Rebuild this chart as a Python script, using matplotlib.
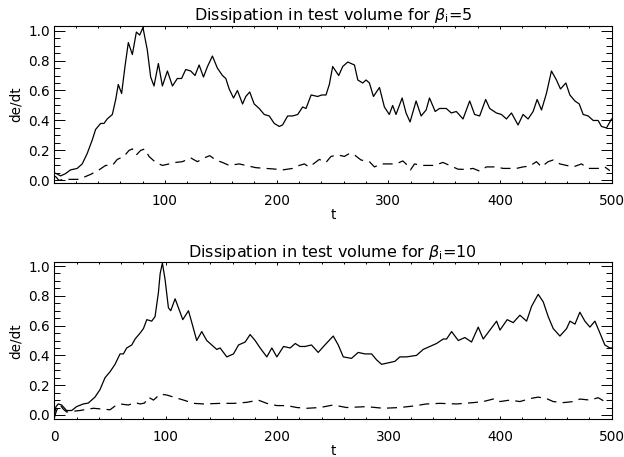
#!/usr/bin/env python3
"""
Energy dissipation rate de/dt in the test volume, for beta_i = 5 and beta_i = 10.
Solid: total dissipation, dashed: second component.
"""

import matplotlib
matplotlib.use("Agg")
import matplotlib.pyplot as plt
from matplotlib.ticker import MultipleLocator

# ---- beta_i = 5 -------------------------------------------------------------
t5_solid = [1, 3, 6.6, 11, 15.5, 21.5, 26, 30.5, 35, 38, 42.5, 45.5, 48.4, 53, 56,
            58.3, 61.3, 64.3, 67.3, 70.9, 74.5, 77.5, 80.4, 84.3, 87.3, 90.3, 94.2,
            97.8, 102.3, 106.8, 111.2, 115, 118.7, 123.2, 127, 130.7, 134.6, 138.2,
            142.6, 147, 151.6, 154.6, 157.6, 161.5, 165, 169.6, 172.5, 176, 180,
            184.5, 189, 193.5, 198, 202.5, 205.4, 210, 214.4, 219, 223.4, 226.4,
            231, 236.8, 240.5, 244.3, 247.3, 250.3, 255.7, 259.3, 263.8, 266.8,
            269.8, 272.8, 277.2, 280.2, 283.2, 286.8, 292.2, 296.6, 301, 304, 307,
            312.5, 316, 319.6, 325, 329.5, 334, 337, 342.1, 346, 352, 356.5, 361,
            367, 373, 377.4, 381.9, 387.3, 390.9, 396.9, 401.4, 405.9, 410.4, 416.3,
            420.8, 425.3, 429.8, 433.4, 437.3, 441.7, 446.2, 450.7, 454.3, 459.1,
            462.7, 467.2, 471.1, 474.6, 479.1, 483.6, 488, 491, 495.5, 500]
de5_solid = [0.05, 0.045, 0.03, 0.045, 0.07, 0.08, 0.11, 0.18, 0.27, 0.34, 0.38, 0.38,
             0.41, 0.44, 0.54, 0.64, 0.58, 0.76, 0.92, 0.84, 0.99, 0.97, 1.02, 0.87,
             0.69, 0.63, 0.78, 0.63, 0.73, 0.63, 0.68, 0.68, 0.74, 0.73, 0.70, 0.77,
             0.69, 0.76, 0.83, 0.75, 0.70, 0.68, 0.61, 0.55, 0.60, 0.51, 0.56, 0.59,
             0.51, 0.48, 0.44, 0.43, 0.38, 0.36, 0.37, 0.43, 0.43, 0.44, 0.49, 0.48,
             0.57, 0.56, 0.57, 0.57, 0.64, 0.76, 0.70, 0.76, 0.79, 0.78, 0.77, 0.67,
             0.65, 0.67, 0.65, 0.56, 0.62, 0.49, 0.44, 0.50, 0.44, 0.55, 0.45, 0.39,
             0.53, 0.43, 0.47, 0.55, 0.46, 0.48, 0.48, 0.45, 0.46, 0.41, 0.53, 0.44,
             0.43, 0.54, 0.48, 0.45, 0.44, 0.41, 0.45, 0.37, 0.44, 0.41, 0.46, 0.54,
             0.47, 0.58, 0.73, 0.67, 0.61, 0.65, 0.57, 0.53, 0.51, 0.44, 0.43, 0.40,
             0.40, 0.36, 0.35, 0.41]

t5_dash = [1, 3, 5, 9.6, 23, 33.5, 41, 47, 53, 57.4, 63.4, 67.9, 70.9, 74.5, 78.3, 82,
           85.8, 91.8, 97.8, 103.8, 109.8, 115.7, 123.2, 129.2, 135.2, 140.2, 145.6,
           151.6, 157.6, 166.6, 172.5, 181.5, 190.5, 199.5, 205.4, 214.4, 220.4,
           225, 229, 233, 238.3, 244.3, 248.8, 254.8, 260.8, 265.3, 269.8, 275.7,
           283.2, 287.7, 293.7, 301.2, 307, 313.1, 316, 320, 323.6, 329.5, 335.5,
           341.5, 349, 355, 362.5, 370, 376, 381.9, 387.9, 396.9, 402.9, 408.8,
           414.8, 420.8, 426.8, 432.8, 437.3, 443.2, 447.7, 453.7, 459.7, 465.7,
           473.1, 479.1, 488, 494, 498.5]
de5_dash = [0.03, 0.02, 0.0, 0.007, 0.007, 0.04, 0.07, 0.10, 0.10, 0.14, 0.16, 0.20,
            0.21, 0.17, 0.20, 0.21, 0.16, 0.12, 0.10, 0.11, 0.12, 0.125, 0.15, 0.125,
            0.15, 0.165, 0.136, 0.12, 0.10, 0.11, 0.10, 0.085, 0.08, 0.075, 0.07,
            0.08, 0.10, 0.11, 0.09, 0.11, 0.14, 0.12, 0.16, 0.17, 0.16, 0.18, 0.17,
            0.136, 0.125, 0.09, 0.11, 0.11, 0.11, 0.13, 0.11, 0.07, 0.11, 0.10, 0.10,
            0.10, 0.12, 0.10, 0.075, 0.073, 0.08, 0.062, 0.09, 0.09, 0.08, 0.08,
            0.08, 0.09, 0.096, 0.125, 0.09, 0.125, 0.136, 0.11, 0.10, 0.09, 0.11,
            0.08, 0.08, 0.09, 0.065]

# ---- beta_i = 10 ------------------------------------------------------------
t10_solid = [0, 1.5, 3.6, 6.6, 11, 15.6, 20, 26, 30.5, 36.5, 41, 45.5, 50, 54.5, 59,
             62, 65, 69.5, 72.5, 77, 80, 83, 87.4, 90.4, 93.4, 95, 97, 99.4, 102.4,
             104.5, 108.4, 111.4, 115.3, 120.4, 123.4, 127.8, 132.3, 136.8, 141.3,
             145.8, 148.8, 154.8, 160.8, 165.3, 171.3, 175.7, 180.2, 184.7, 190.7,
             195.2, 199.7, 205.7, 211.7, 216.2, 220.4, 225, 230.8, 236.8, 242.8,
             250.3, 254.8, 259.3, 266.7, 272.7, 278.7, 284.7, 289.2, 293.7, 299.6,
             305.6, 310.1, 316, 325, 331, 337, 343, 349, 352, 356.5, 362.5, 368.4,
             374.4, 380.4, 384.9, 390.9, 396.9, 399.9, 406.4, 411.8, 417.8, 423.8,
             428.3, 434.2, 438.7, 443.2, 447.7, 453.7, 459.7, 462.7, 467.2, 471.6,
             476.1, 480.6, 485.1, 489.6, 494, 498.5, 500]
de10_solid = [0.0, 0.056, 0.074, 0.067, 0.03, 0.03, 0.056, 0.074, 0.08, 0.12, 0.17,
              0.25, 0.29, 0.34, 0.41, 0.41, 0.45, 0.47, 0.51, 0.55, 0.58, 0.64, 0.63,
              0.66, 0.82, 0.95, 1.02, 0.91, 0.72, 0.70, 0.78, 0.72, 0.64, 0.70, 0.62,
              0.50, 0.56, 0.50, 0.47, 0.44, 0.45, 0.39, 0.41, 0.47, 0.49, 0.54, 0.50,
              0.45, 0.39, 0.45, 0.39, 0.46, 0.45, 0.48, 0.46, 0.46, 0.47, 0.42, 0.47,
              0.53, 0.47, 0.39, 0.38, 0.42, 0.41, 0.41, 0.37, 0.34, 0.35, 0.36, 0.39,
              0.39, 0.40, 0.44, 0.46, 0.48, 0.51, 0.51, 0.56, 0.50, 0.52, 0.49, 0.59,
              0.51, 0.57, 0.63, 0.57, 0.64, 0.62, 0.67, 0.63, 0.73, 0.81, 0.76, 0.66,
              0.58, 0.53, 0.58, 0.63, 0.61, 0.69, 0.63, 0.59, 0.63, 0.55, 0.47, 0.45,
              0.45]

t10_dash = [0, 2, 5, 8, 11, 23, 35, 50, 54.5, 59, 66.5, 72.5, 77, 81, 84.4, 89, 95,
            101, 107, 116, 125, 134, 149, 161, 172.8, 183, 190.7, 199.7, 208.7,
            217.7, 226.6, 238.3, 250.3, 262.2, 280.2, 295.2, 310.1, 322, 334, 346,
            361, 376, 384.9, 395.4, 399.9, 408.8, 417.8, 426.8, 434.2, 441.7, 447.7,
            456.7, 465.7, 471.6, 480.6, 488, 494]
de10_dash = [-0.02, 0.03, 0.07, 0.04, 0.02, 0.03, 0.045, 0.035, 0.06, 0.074, 0.067,
             0.083, 0.074, 0.08, 0.12, 0.10, 0.14, 0.134, 0.12, 0.10, 0.078, 0.074,
             0.078, 0.078, 0.085, 0.10, 0.078, 0.063, 0.063, 0.05, 0.045, 0.05,
             0.067, 0.05, 0.056, 0.045, 0.05, 0.06, 0.074, 0.078, 0.074, 0.083, 0.09,
             0.11, 0.09, 0.10, 0.09, 0.11, 0.12, 0.11, 0.09, 0.083, 0.09, 0.107,
             0.10, 0.116, 0.09]

panels = [
    (r"Dissipation in test volume for $\beta_{\rm i}$=5", t5_solid, de5_solid,
     t5_dash, de5_dash, (1, 500), (-0.016, 1.03), [100, 200, 300, 400, 500]),
    (r"Dissipation in test volume for $\beta_{\rm i}$=10", t10_solid, de10_solid,
     t10_dash, de10_dash, (0, 500), (-0.029, 1.025), [0, 100, 200, 300, 400, 500]),
]

plt.rcParams["font.family"] = "DejaVu Sans"
plt.rcParams["mathtext.fontset"] = "dejavusans"

fig = plt.figure(figsize=(6.24, 4.57), dpi=100)
boxes = [[0.087, 0.600, 0.893, 0.343], [0.087, 0.0825, 0.893, 0.3435]]

for box, (title, ts, ys, td, yd, xlim, ylim, xticks) in zip(boxes, panels):
    ax = fig.add_axes(box)
    ax.plot(ts, ys, color="black", lw=0.9)
    ax.plot(td, yd, color="black", lw=0.9, dashes=(8, 5))
    ax.set_xlim(*xlim)
    ax.set_ylim(*ylim)
    ax.set_xticks(xticks)
    ax.xaxis.set_minor_locator(MultipleLocator(20))
    ax.set_yticks([0.0, 0.2, 0.4, 0.6, 0.8, 1.0])
    ax.yaxis.set_minor_locator(MultipleLocator(0.05))
    ax.tick_params(axis="both", which="both", direction="in", top=True, right=True,
                   width=0.7, labelsize=9.8)
    ax.tick_params(axis="x", which="major", length=2.3, pad=8)
    ax.tick_params(axis="x", which="minor", length=1.2)
    ax.tick_params(axis="y", which="major", length=8.0, pad=3)
    ax.tick_params(axis="y", which="minor", length=4.0)
    for s in ax.spines.values():
        s.set_linewidth(0.8)
    ax.set_title(title, fontsize=11.5, pad=4)
    ax.set_xlabel("t", fontsize=9.8, labelpad=0)
    ax.set_ylabel("de/dt", fontsize=9.8, labelpad=4)

fig.savefig("out.png", dpi=100)
